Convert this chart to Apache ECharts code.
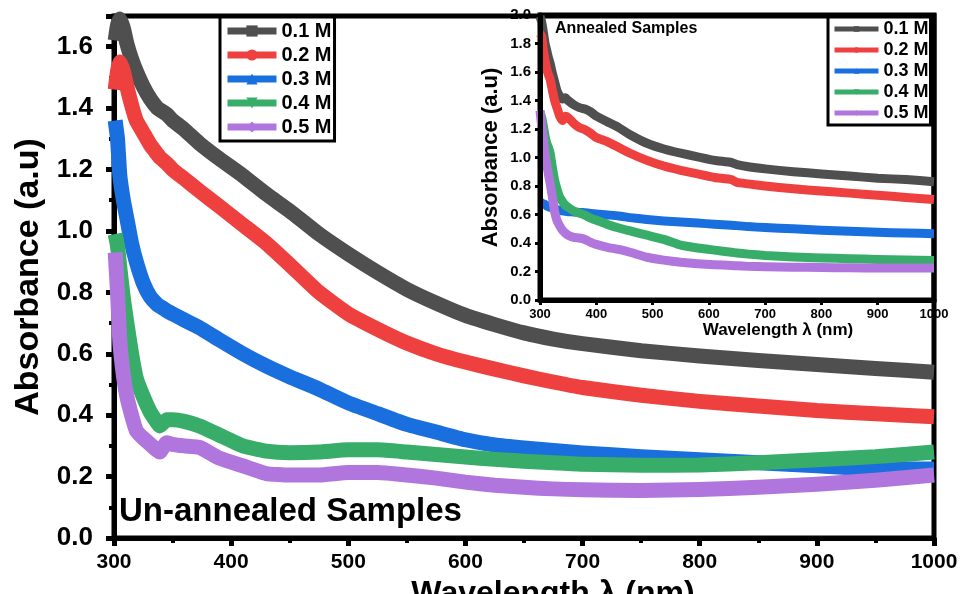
<!DOCTYPE html>
<html>
<head>
<meta charset="utf-8">
<script src="https://cdn.jsdelivr.net/npm/echarts@6/dist/echarts.min.js"></script>
<style>
  html, body { margin: 0; padding: 0; background: #fff; }
  #chart { width: 960px; height: 594px; }
</style>
</head>
<body>
<div id="chart"></div>
<script>
  // ---------- data ----------
  const seriesNames = ['0.1 M', '0.2 M', '0.3 M', '0.4 M', '0.5 M']
  const colors = ['#4f4f4f', '#ef4040', '#1a6fde', '#38ad6a', '#b076dd']
  const symbols = ['rect', 'circle', 'triangle', 'triangle', 'diamond']
  const symbolRotates = [0, 0, 0, 180, 0]

  // un-annealed (main plot)
  const mainWl = [301, 303, 305, 308, 311, 315, 319, 325, 331, 337, 339, 345, 350, 360, 373, 390, 410, 430, 450, 475,
    500, 525, 550, 575, 600, 625, 650, 675, 700, 750, 800, 850, 900, 950, 1000]
  const main01 = [1.62, 1.67, 1.69, 1.66, 1.61, 1.56, 1.52, 1.47, 1.43, 1.40, 1.395, 1.38, 1.36, 1.33, 1.285, 1.235, 1.18, 1.12, 1.065, 0.99,
    0.925, 0.865, 0.81, 0.765, 0.725, 0.695, 0.668, 0.648, 0.633, 0.61, 0.593, 0.578, 0.565, 0.552, 0.54]
  const main02 = [1.46, 1.52, 1.55, 1.52, 1.47, 1.41, 1.36, 1.32, 1.28, 1.25, 1.24, 1.22, 1.20, 1.17, 1.13, 1.08, 1.02, 0.96, 0.89, 0.80,
    0.73, 0.68, 0.635, 0.60, 0.573, 0.55, 0.528, 0.508, 0.49, 0.465, 0.445, 0.43, 0.415, 0.405, 0.395]
  const main03 = [1.36, 1.30, 1.18, 1.10, 1.04, 0.96, 0.90, 0.83, 0.785, 0.76, 0.755, 0.74, 0.73, 0.71, 0.685, 0.645, 0.60, 0.56, 0.525, 0.485,
    0.44, 0.405, 0.37, 0.345, 0.32, 0.303, 0.293, 0.285, 0.277, 0.265, 0.255, 0.245, 0.235, 0.225, 0.225]
  const main04 = [0.99, 0.95, 0.88, 0.78, 0.70, 0.60, 0.52, 0.46, 0.41, 0.375, 0.365, 0.385, 0.385, 0.38, 0.365, 0.335, 0.30, 0.283, 0.278, 0.28,
    0.287, 0.287, 0.28, 0.272, 0.264, 0.256, 0.25, 0.245, 0.24, 0.237, 0.238, 0.245, 0.255, 0.265, 0.28]
  const main05 = [0.93, 0.80, 0.64, 0.53, 0.46, 0.40, 0.35, 0.325, 0.305, 0.285, 0.28, 0.31, 0.305, 0.30, 0.295, 0.26, 0.235, 0.21, 0.205, 0.205,
    0.213, 0.213, 0.205, 0.195, 0.182, 0.172, 0.165, 0.16, 0.157, 0.155, 0.158, 0.165, 0.175, 0.188, 0.205]

  // annealed (inset)
  const insetWl = [300, 303, 306, 309, 312, 315, 318, 322, 326, 330, 335, 340, 345, 350, 360, 370, 380, 390, 400, 420,
    440, 460, 490, 520, 550, 580, 610, 640, 650, 670, 700, 750, 800, 850, 900, 950, 1000]
  const inset01 = [1.99, 1.95, 1.88, 1.80, 1.75, 1.70, 1.66, 1.59, 1.53, 1.47, 1.43, 1.41, 1.42, 1.40, 1.37, 1.35, 1.34, 1.32, 1.29, 1.25,
    1.21, 1.16, 1.10, 1.06, 1.03, 1.005, 0.98, 0.965, 0.95, 0.935, 0.92, 0.90, 0.885, 0.87, 0.855, 0.845, 0.83]
  const inset02 = [1.87, 1.85, 1.75, 1.68, 1.62, 1.58, 1.55, 1.47, 1.40, 1.35, 1.29, 1.26, 1.29, 1.28, 1.24, 1.21, 1.195, 1.17, 1.14, 1.11,
    1.07, 1.03, 0.98, 0.94, 0.91, 0.885, 0.86, 0.845, 0.825, 0.815, 0.80, 0.78, 0.765, 0.75, 0.735, 0.72, 0.705]
  const inset03 = [0.69, 0.68, 0.675, 0.67, 0.66, 0.655, 0.65, 0.645, 0.64, 0.635, 0.63, 0.625, 0.622, 0.62, 0.618, 0.615, 0.612, 0.608, 0.604, 0.597,
    0.59, 0.578, 0.565, 0.555, 0.548, 0.54, 0.532, 0.525, 0.522, 0.515, 0.508, 0.50, 0.49, 0.482, 0.475, 0.47, 0.465]
  const inset04 = [1.32, 1.28, 1.22, 1.15, 1.10, 1.07, 1.03, 0.93, 0.84, 0.78, 0.72, 0.69, 0.665, 0.65, 0.625, 0.61, 0.595, 0.575, 0.56, 0.53,
    0.505, 0.485, 0.455, 0.425, 0.385, 0.365, 0.35, 0.335, 0.33, 0.322, 0.312, 0.302, 0.295, 0.29, 0.285, 0.28, 0.277]
  const inset05 = [1.33, 1.22, 1.12, 1.02, 0.95, 0.88, 0.82, 0.72, 0.62, 0.56, 0.52, 0.49, 0.47, 0.455, 0.44, 0.435, 0.425, 0.405, 0.39, 0.37,
    0.355, 0.335, 0.30, 0.28, 0.265, 0.255, 0.248, 0.242, 0.24, 0.236, 0.233, 0.23, 0.228, 0.226, 0.225, 0.225, 0.225]

  const mainValues = [main01, main02, main03, main04, main05]
  const insetValues = [inset01, inset02, inset03, inset04, inset05]

  // ---------- helpers ----------
  const font = 'Liberation Sans'
  const bold = (size) => ({fontFamily: font, fontWeight: 'bold', fontSize: size, color: '#000'})
  const pairs = (xs, ys) => xs.map((x, i) => [x, ys[i]])
  const plainInt = v => String(Math.round(v))
  const oneDec = v => v.toFixed(1)

  const makeSeries = (values, wl, axisIdx, width, z) => values.map((ys, i) => ({
    name: seriesNames[i],
    type: 'line',
    xAxisIndex: axisIdx,
    yAxisIndex: axisIdx,
    data: pairs(wl, ys),
    symbol: symbols[i],
    symbolRotate: symbolRotates[i],
    showSymbol: false,
    smooth: 0.15,
    silent: true,
    z: z + i * 0.01,
    color: colors[i],
    lineStyle: {width, color: colors[i], join: 'round', cap: 'butt'},
    animation: false,
  }))

  const chart = echarts.init(document.getElementById('chart'), null, {renderer: 'canvas'})

  const option = {
    backgroundColor: '#fff',
    animation: false,
    title: [
      {text: 'Un-annealed Samples', left: 119, top: 495, padding: 0, textStyle: bold(33)},
      {text: 'Annealed Samples', left: 555, top: 21, padding: 0, textStyle: bold(16)},
    ],
    grid: [
      {left: 114, right: 26, top: 16, bottom: 56, containLabel: false, outerBoundsMode: 'none',
        show: true, borderColor: '#000', borderWidth: 5},
      {left: 540, right: 26, top: 15, bottom: 294, containLabel: false, outerBoundsMode: 'none',
        show: true, borderColor: '#000', borderWidth: 5, backgroundColor: 'rgba(255,255,255,0)', z: 3},
    ],
    legend: [
      {
        data: seriesNames,
        orient: 'vertical',
        left: 220,
        top: 17,
        padding: [4, 3, 4, 4],
        itemGap: 4,
        itemWidth: 49,
        itemHeight: 14,
        borderColor: '#000',
        borderWidth: 3,
        backgroundColor: '#fff',
        selectedMode: false,
        lineStyle: {width: 7},
        textStyle: {...bold(20), lineHeight: 20},
      },
      {
        data: seriesNames,
        orient: 'vertical',
        left: 828,
        top: 17,
        padding: [3, 2, 3, 4],
        itemGap: 3,
        itemWidth: 44,
        itemHeight: 7,
        borderColor: '#000',
        borderWidth: 3,
        backgroundColor: '#fff',
        selectedMode: false,
        lineStyle: {width: 5},
        textStyle: {...bold(18), lineHeight: 18},
        z: 8,
      },
    ],
    xAxis: [
      {
        type: 'value', gridIndex: 0, min: 300, max: 1000, interval: 100,
        name: 'Wavelength λ (nm)', nameLocation: 'middle', nameGap: 26,
        nameTextStyle: {...bold(32), padding: [0, 0, 0, 58]},
        axisLine: {lineStyle: {color: '#000', width: 5}},
        axisTick: {length: 8, lineStyle: {width: 5, color: '#000'}},
        minorTick: {show: true, splitNumber: 2, length: 5, lineStyle: {width: 4, color: '#000'}},
        axisLabel: {...bold(21), margin: 14, formatter: plainInt},
        splitLine: {show: false},
      },
      {
        type: 'value', gridIndex: 1, min: 300, max: 1000, interval: 100,
        name: 'Wavelength λ (nm)', nameLocation: 'middle', nameGap: 19,
        nameTextStyle: {...bold(17), padding: [0, 0, 0, 82]},
        axisLine: {lineStyle: {color: '#000', width: 5}},
        axisTick: {length: 5, lineStyle: {width: 3, color: '#000'}},
        axisLabel: {...bold(13), margin: 8, formatter: plainInt},
        splitLine: {show: false},
        z: 5,
      },
    ],
    yAxis: [
      {
        type: 'value', gridIndex: 0, min: 0, max: 1.7, interval: 0.2,
        name: 'Absorbance (a.u)', nameLocation: 'middle', nameGap: 62,
        nameTextStyle: bold(34),
        axisLine: {lineStyle: {color: '#000', width: 5}},
        axisTick: {length: 8, lineStyle: {width: 5, color: '#000'}},
        minorTick: {show: true, splitNumber: 2, length: 5, lineStyle: {width: 4, color: '#000'}},
        axisLabel: {...bold(26), margin: 21, showMaxLabel: false, formatter: oneDec},
        splitLine: {show: false},
      },
      {
        type: 'value', gridIndex: 1, min: 0, max: 2.0, interval: 0.2,
        name: 'Absorbance (a.u)', nameLocation: 'middle', nameGap: 38,
        nameTextStyle: bold(22),
        axisLine: {lineStyle: {color: '#000', width: 5}},
        axisTick: {length: 5, lineStyle: {width: 3, color: '#000'}},
        axisLabel: {...bold(15), margin: 9, formatter: oneDec},
        splitLine: {show: false},
        z: 5,
      },
    ],
    series: [
      ...makeSeries(mainValues, mainWl, 0, 15, 2),
      ...makeSeries(insetValues, insetWl, 1, 9, 4),
    ],
  }

  chart.setOption(option)
</script>
</body>
</html>
